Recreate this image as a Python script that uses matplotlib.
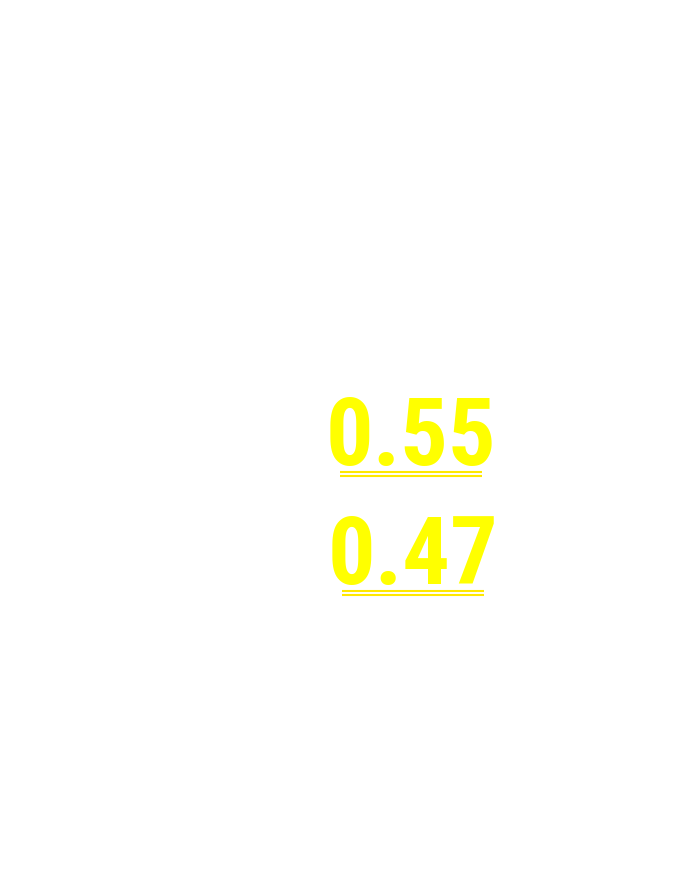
import matplotlib
matplotlib.use('Agg')
import matplotlib.pyplot as plt
from matplotlib import font_manager

values = [0.55, 0.47]
labels = ['%.2f' % v for v in values]
rows = [465, 584]   # text baselines in pixels from top

names = {f.name for f in font_manager.fontManager.ttflist}
family = [n for n in ['Liberation Sans Narrow', 'DejaVu Sans Condensed', 'Roboto Condensed', 'DejaVu Sans'] if n in names]

fig = plt.figure(figsize=(6.8, 8.8), dpi=100)
fig.patch.set_facecolor('white')
ax = fig.add_axes([0, 0, 1, 1])
ax.set_xlim(0, 680)
ax.set_ylim(880, 0)
ax.axis('off')

texts = []
for lab, y, xc in zip(labels, rows, [411, 413]):
    t = ax.text(xc, y, lab, ha='center', va='baseline', color='#ffff00',
                fontsize=68, fontweight='bold', family=family, fontstretch='condensed')
    texts.append(t)

fig.canvas.draw()
r = fig.canvas.get_renderer()
inv = ax.transData.inverted()
for t, y in zip(texts, rows):
    bb = t.get_window_extent(r)
    x0, _ = inv.transform((bb.x0, 0))
    x1, _ = inv.transform((bb.x1, 0))
    pad = (x1 - x0 - 142) / 2
    for dy in (7.5, 11.5):
        ax.plot([x0 + pad, x1 - pad], [y + dy, y + dy], color='#ffe800', lw=1.5,
                solid_capstyle='butt')

fig.savefig('out.png', dpi=100, facecolor='white')
